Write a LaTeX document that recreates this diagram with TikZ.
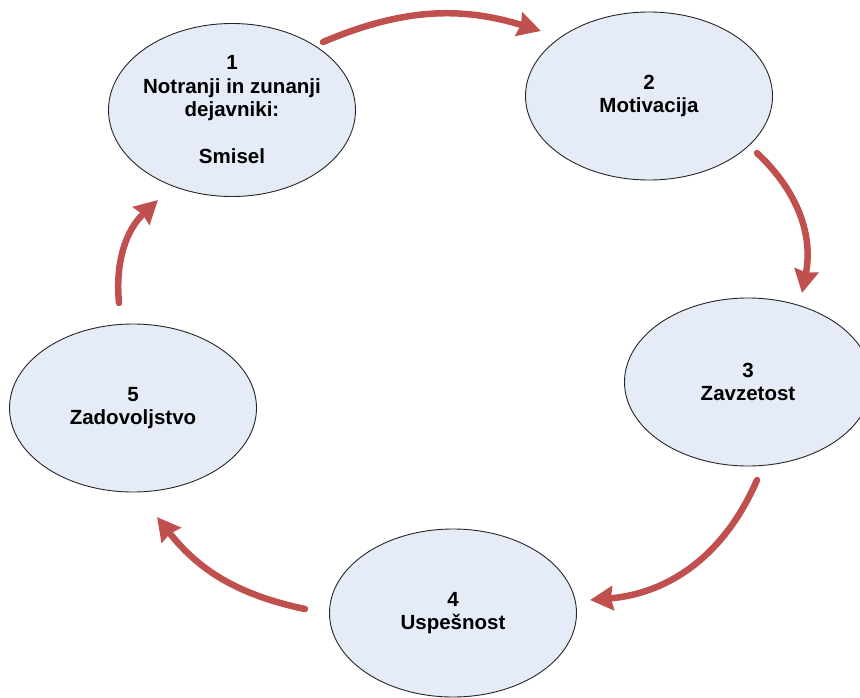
\documentclass[tikz,border=0pt]{standalone}
\usepackage{fontspec}
\setmainfont{Liberation Sans}
\usetikzlibrary{shapes.geometric,arrows.meta}

\definecolor{rdeca}{HTML}{C0504D}
\definecolor{modra}{HTML}{E6ECF7}

\tikzset{
  faza/.style={ellipse, draw=black!85, line width=0.9pt, fill=modra,
    minimum width=247pt, minimum height=168pt, inner xsep=-20pt, inner ysep=0pt,
    align=center, font=\fontsize{20.5}{23.5}\selectfont\bfseries},
  krog/.style={draw=rdeca, line width=6.5pt, line cap=round,
    -{Stealth[length=23pt,width=24pt,inset=2pt]}}
}

\begin{document}
\begin{tikzpicture}[x=1pt,y=1pt]
  \useasboundingbox (0,0) rectangle (860,-697);
  \clip (0,0) rectangle (860,-697);

  % Elipse
  \node[faza, minimum height=173pt] (n1) at (232,-110) {1\\Notranji in zunanji\\dejavniki:\\[23.5pt]Smisel};
  \node[faza] (n2) at (649,-96) {2\\Motivacija};
  \node[faza] (n3) at (748,-382) {3\\Zavzetost};
  \node[faza] (n4) at (453,-613) {4\\Uspešnost};
  \node[faza] (n5) at (133,-408) {5\\Zadovoljstvo};

  % Konci puscic
  \coordinate (a12s) at (323,-42);
  \coordinate (a12e) at (541,-31);
  \coordinate (a23s) at (757,-153);
  \coordinate (a23e) at (802,-293);
  \coordinate (a34s) at (757,-480);
  \coordinate (a34e) at (590,-600);
  \coordinate (a45s) at (305,-609);
  \coordinate (a45e) at (157,-517);
  \coordinate (a51s) at (119,-303);
  \coordinate (a51e) at (158,-200);

  % Puscice
  \draw[krog] (a12s) to[bend left=20] (a12e);
  \draw[krog] (a23s) to[bend left=29] (a23e);
  \draw[krog] (a34s) to[bend left=31] (a34e);
  \draw[krog] (a45s) to[bend left=20] (a45e);
  \draw[krog] (a51s) to[bend left=26] (a51e);

\end{tikzpicture}
\end{document}
